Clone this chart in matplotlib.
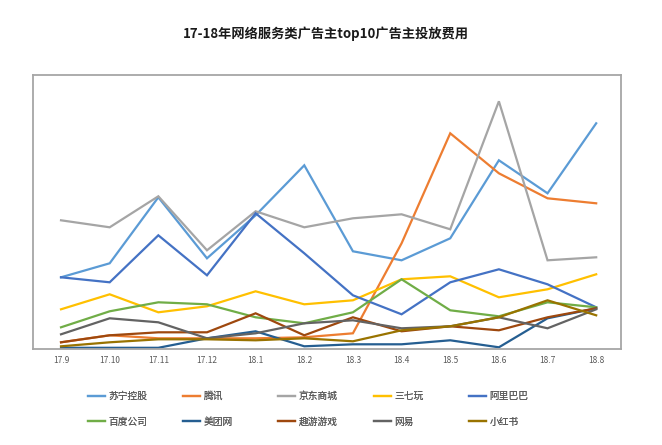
import matplotlib
matplotlib.use("Agg")
import matplotlib.pyplot as plt

plt.rcParams['font.family'] = ['Noto Sans CJK SC', 'DejaVu Sans']

# ---------------- data (arbitrary units) ----------------
months = ["17.9", "17.10", "17.11", "17.12", "18.1", "18.2",
          "18.3", "18.4", "18.5", "18.6", "18.7", "18.8"]

names = ["苏宁控股", "腾讯", "京东商城", "三七玩", "阿里巴巴",
         "百度公司", "美团网", "趣游游戏", "网易", "小红书"]

suning  = [72, 86, 152, 91, 134, 184, 98, 89, 111, 189, 156, 226]
tencent = [7, 14, 11, 11, 11, 12, 16, 106, 216, 176, 151, 146]
jd      = [129, 122, 153, 99, 138, 122, 131, 135, 120, 248, 89, 92]
sqw     = [40, 55, 37, 43, 58, 45, 49, 70, 73, 52, 60, 75]
alibaba = [72, 67, 114, 74, 136, 96, 54, 35, 67, 80, 65, 42]
baidu   = [22, 38, 47, 45, 32, 26, 37, 70, 39, 33, 47, 42]
meituan = [1.5, 1.5, 1.5, 11, 18, 3, 5, 5, 9, 2, 31, 41]
quyou   = [7, 14, 17, 17, 36, 14, 32, 18, 23, 19, 32, 41]
netease = [15, 31, 27, 11, 16, 26, 29, 21, 23, 32, 21, 40]
xhs     = [3, 7, 10, 10, 9, 11, 8, 19, 23, 32, 49, 34]

series = [suning, tencent, jd, sqw, alibaba, baidu, meituan, quyou, netease, xhs]
colors = ["#5B9BD5", "#ED7D31", "#A5A5A5", "#FFC000", "#4472C4",
          "#70AD47", "#255E91", "#9E480E", "#636363", "#997300"]

fig = plt.figure(figsize=(6.62, 4.45), dpi=100)
ax = fig.add_axes([33 / 662, 1 - 349.3 / 445, (621 - 33) / 662, (349.3 - 74.7) / 445])

x = list(range(len(months)))
lines = []
for vals, c, n in zip(series, colors, names):
    ln, = ax.plot(x, vals, color=c, lw=1.6, label=n, solid_joinstyle='miter')
    lines.append(ln)

ax.set_xlim(-0.576, 11.51)
ax.set_ylim(0, 274.6)
ax.set_xticks(x)
ax.set_xticklabels(months, fontsize=6, color="#595959")
ax.tick_params(axis='x', length=0, pad=5)
ax.set_yticks([])
for s in ax.spines.values():
    s.set_color("#A6A6A6")
    s.set_linewidth(1.3)

fig.text(326 / 662, 1 - 34 / 445, "17-18年网络服务类广告主top10广告主投放费用",
         ha='center', va='center', fontsize=9.5, fontweight='bold', color='#1a1a1a')

# legend: five columns laid out at equal spacing
col_x = [88, 183, 278, 374, 469]
for k, cx in enumerate(col_x):
    leg = fig.legend([lines[k], lines[k + 5]], [names[k], names[k + 5]],
                     loc='upper left', bbox_to_anchor=(cx / 662, 1 - 391 / 445),
                     frameon=False, fontsize=7, labelcolor="#595959",
                     handlelength=1.7, handletextpad=0.4, borderpad=0,
                     borderaxespad=0, labelspacing=1.6)
    fig.add_artist(leg)

fig.savefig("out.png", dpi=100)
